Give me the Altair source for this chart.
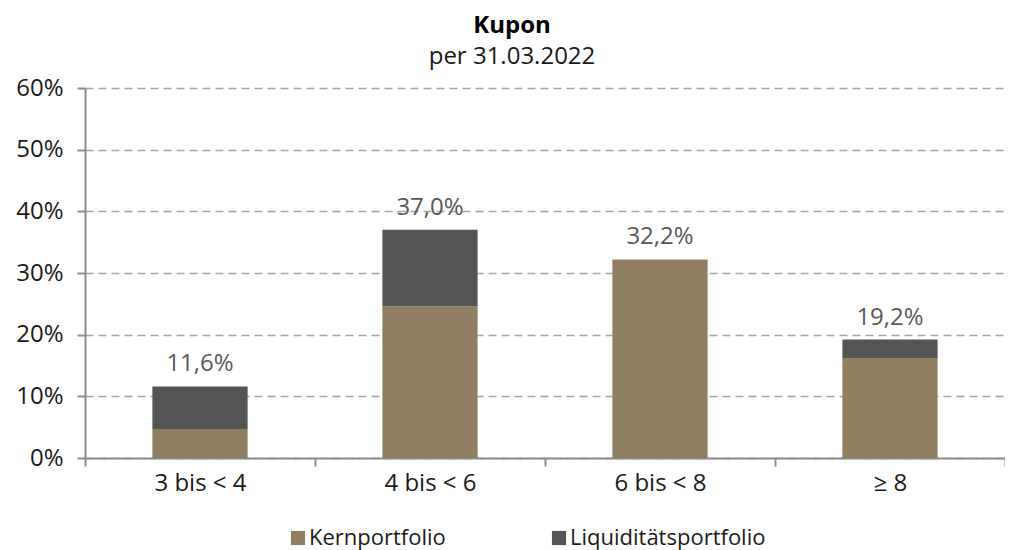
import altair as alt
import pandas as pd

categories = ["3 bis < 4", "4 bis < 6", "6 bis < 8", "≥ 8"]
series = ["Kernportfolio", "Liquiditätsportfolio"]
kern = [4.7, 24.6, 32.2, 16.2]
liquid = [6.9, 12.4, 0.0, 3.0]
y_ticks = [0, 10, 20, 30, 40, 50, 60]

rows = []
for i, c in enumerate(categories):
    rows.append({"cat": c, "series": series[0], "idx": 0, "value": kern[i]})
    rows.append({"cat": c, "series": series[1], "idx": 1, "value": liquid[i]})
df = pd.DataFrame(rows)

FONT = "Open Sans"
x_enc = alt.X("cat:N", sort=categories, title=None,
              scale=alt.Scale(paddingInner=0, paddingOuter=0),
              axis=alt.Axis(labelAngle=0, labelFontSize=24, labelColor="#1a1a1a",
                            labelFont=FONT, labelPadding=5, tickBand="extent",
                            tickColor="#8c8c8c", tickWidth=2, tickSize=8,
                            domainColor="#8c8c8c", domainWidth=2, grid=False))

bars = alt.Chart(df).mark_bar(width=alt.RelativeBandSize(0.414)).encode(
    x=x_enc,
    y=alt.Y("sum(value):Q", stack="zero", title=None,
            scale=alt.Scale(domain=[0, 60], nice=False),
            axis=alt.Axis(values=y_ticks, labelExpr="datum.value + '%'",
                          labelFontSize=24, labelColor="#1a1a1a", labelFont=FONT,
                          labelPadding=14, tickColor="#8c8c8c", tickWidth=2, tickSize=8,
                          domainColor="#8c8c8c", domainWidth=2,
                          grid=True, gridColor="#a6a6a6", gridDash=[8, 5], gridWidth=1.5)),
    color=alt.Color("series:N", sort=series,
                    scale=alt.Scale(domain=series, range=["#8f7f60", "#555555"]),
                    legend=alt.Legend(title=None, orient="none", legendX=202, legendY=439,
                                      direction="horizontal", symbolType="square",
                                      symbolSize=200, symbolStrokeWidth=0,
                                      labelFontSize=22, labelFont=FONT, labelColor="#1a1a1a",
                                      columnPadding=102, labelOffset=0, labelLimit=400)),
    order=alt.Order("idx:Q", sort="ascending"),
)

labels = alt.Chart(df).transform_aggregate(
    total="sum(value)", groupby=["cat"]
).transform_calculate(
    label="replace(format(datum.total, '.1f'), '.', ',') + '%'"
).mark_text(baseline="bottom", dy=-10, fontSize=24, font=FONT, color="#595959").encode(
    x=alt.X("cat:N", sort=categories),
    y=alt.Y("total:Q"),
    text="label:N",
)

chart = alt.layer(bars, labels).properties(
    width=920, height=370,
    title=alt.Title("Kupon", subtitle="per 31.03.2022", anchor="middle", dx=-33,
                    fontSize=24, font=FONT, fontWeight="bold", color="#000000",
                    subtitleFontSize=24, subtitleFont=FONT, subtitleColor="#1a1a1a",
                    subtitlePadding=7, offset=7),
    autosize=alt.AutoSizeParams(type="none"),
    padding={"left": 77, "top": 80, "right": 0, "bottom": 96},
).configure_view(stroke=None)

chart.save("out.html", embed_options={"renderer": "svg", "actions": False})
